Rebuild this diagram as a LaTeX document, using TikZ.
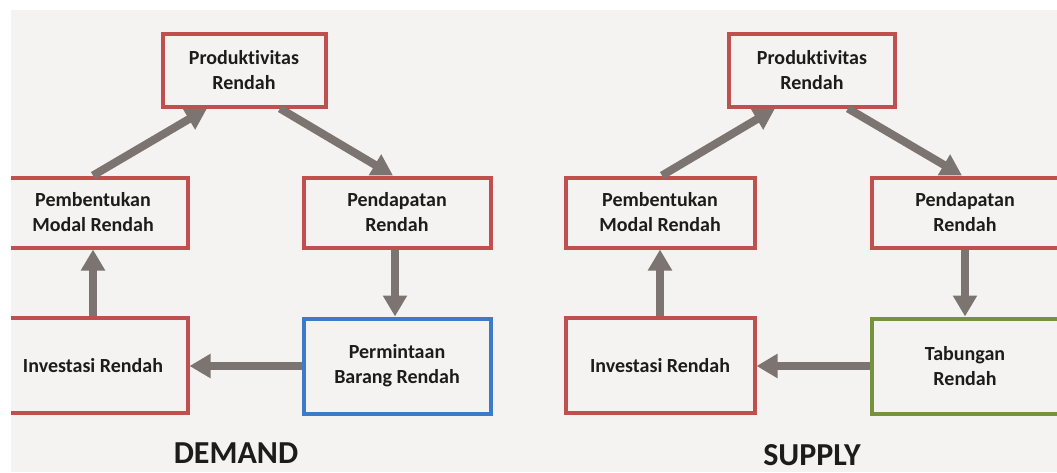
\documentclass[tikz,border=0pt]{standalone}
\usepackage{fontspec}
\setmainfont{Carlito}[RawFeature={-liga}]
\usetikzlibrary{arrows.meta}
\definecolor{boxred}{HTML}{C0504D}
\definecolor{boxblue}{HTML}{3D7BC9}
\definecolor{boxgreen}{HTML}{76923C}
\definecolor{arrowgray}{HTML}{7B7471}
\definecolor{bgpaper}{HTML}{F5F3F1}
\definecolor{txt}{HTML}{1C1C1C}
\tikzset{
  cbox/.style={draw=boxred, line width=4pt, fill=bgpaper, rectangle, align=center,
    text=txt, font=\fontsize{20}{25}\selectfont\bfseries, inner sep=0pt},
  flow/.style={draw=arrowgray, line width=8pt, -{Triangle[length=21pt,width=23pt]}},
  title/.style={text=txt, font=\fontsize{32}{36}\selectfont\bfseries, inner sep=0pt}
}
\begin{document}
\begin{tikzpicture}[x=1pt,y=-1pt]
\useasboundingbox (0,0) rectangle (1057,472);
\fill[white] (0,0) rectangle (1057,472);
\fill[bgpaper] (11,10) rectangle (1057,472);
\begin{scope}
\clip (11,10) rectangle (1057,472);
% DEMAND
\node[cbox, minimum width=163pt, minimum height=73pt] (P) at (244,70) {Produktivitas\\Rendah};
\node[cbox, minimum width=189pt, minimum height=70pt] (M) at (93,212.5) {Pembentukan\\Modal Rendah};
\node[cbox, minimum width=187pt, minimum height=70pt] (D) at (397,212.5) {Pendapatan\\Rendah};
\node[cbox, minimum width=189pt, minimum height=95pt] (I) at (93,365.5) {Investasi Rendah};
\node[cbox, draw=boxblue, minimum width=187pt, minimum height=95pt] (B) at (397,366) {Permintaan\\Barang Rendah};
\draw[flow] (M.north) -- ([xshift=-37pt]P.south);
\draw[flow] ([xshift=36pt]P.south) -- ([xshift=-4pt]D.north);
\draw[flow] ([xshift=-2pt]D.south) -- ([xshift=-2pt]B.north);
\draw[flow] (B.west) -- (B.west -| I.east);
\draw[flow] (I.north) -- (M.south);
\node[title] (demand) at (236,453) {DEMAND};
% SUPPLY
\node[cbox, minimum width=166pt, minimum height=73pt] (sP) at (812,70) {Produktivitas\\Rendah};
\node[cbox, minimum width=189pt, minimum height=70pt] (sM) at (660,212.5) {Pembentukan\\Modal Rendah};
\node[cbox, minimum width=187pt, minimum height=70pt] (sD) at (965,212.5) {Pendapatan\\Rendah};
\node[cbox, minimum width=189pt, minimum height=95pt] (sI) at (660,365.5) {Investasi Rendah};
\node[cbox, draw=boxgreen, minimum width=187pt, minimum height=95pt] (sT) at (965,366) {Tabungan\\Rendah};
\draw[flow] ([xshift=2pt]sM.north) -- ([xshift=-37pt]sP.south);
\draw[flow] ([xshift=36pt]sP.south) -- ([xshift=-3pt]sD.north);
\draw[flow] (sD.south) -- (sT.north);
\draw[flow] (sT.west) -- (sT.west -| sI.east);
\draw[flow] (sI.north) -- (sM.south);
\node[title] (supply) at (812,455) {SUPPLY};
\end{scope}
\end{tikzpicture}
\end{document}
